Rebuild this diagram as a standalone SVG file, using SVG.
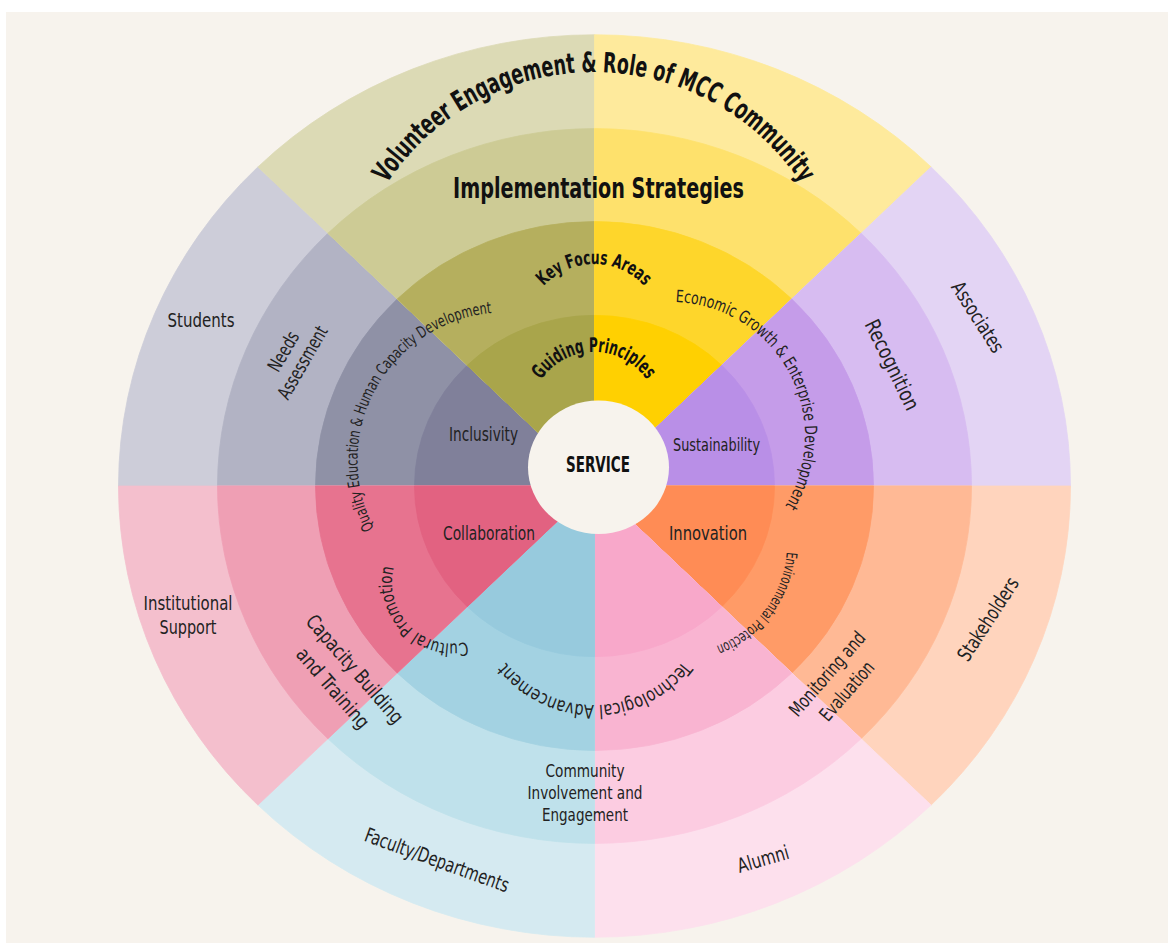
<svg xmlns="http://www.w3.org/2000/svg" width="1175" height="943" viewBox="0 0 1175 943">
<style>
.t{font-family:"Liberation Sans Narrow","DejaVu Sans Condensed","Roboto Condensed","Liberation Sans",sans-serif;fill:#222}
.b{font-weight:700;fill:#111}
.w{stroke-width:0.8}
</style>
<defs>
<path id="pTitle" d="M346,320 A248,248 0 0 1 842,320"/>
<path id="pKey" d="M526,332 A68,68 0 0 1 662,332"/>
<path id="pGuide" d="M530,416 A64,64 0 0 1 658,416"/>
<path id="pEcon" d="M675.7,302.1 A134,134 0 0 1 784.6,507"/>
<path id="pQual" d="M374,528.3 A148,148 0 0 1 493.1,312.9"/>
<path id="pCult" d="M467,641.9 A61,61 0 0 1 394.2,566.1"/>
<path id="pTech" d="M683,661 A112,112 0 0 1 505,661"/>
<path id="pEnv" d="M786.7,552 A109,109 0 0 1 714.9,646.6"/>
</defs>
<rect width="1175" height="943" fill="#ffffff"/>
<rect x="6" y="12" width="1162" height="931" fill="#f7f3ed"/>
<g id="rings" transform="translate(594.5,486) scale(1,0.948)">
<g id="sector-grey">
<path class="w" fill="#cdcdd9" stroke="#cdcdd9" d="M0,0 L-476,0 A476,476 0 0 1 -336.58,-336.58 Z"/>
<path class="w" fill="#b2b3c4" stroke="#b2b3c4" d="M0,0 L-377,0 A377,377 0 0 1 -266.58,-266.58 Z"/>
<path class="w" fill="#8f91a6" stroke="#8f91a6" d="M0,0 L-279,0 A279,279 0 0 1 -197.28,-197.28 Z"/>
<path class="w" fill="#80809a" stroke="#80809a" d="M0,0 L-180,0 A180,180 0 0 1 -127.28,-127.28 Z"/>
</g>
<g id="sector-olive">
<path class="w" fill="#dcdab5" stroke="#dcdab5" d="M0,0 L-336.58,-336.58 A476,476 0 0 1 0,-476 Z"/>
<path class="w" fill="#cdcb95" stroke="#cdcb95" d="M0,0 L-266.58,-266.58 A377,377 0 0 1 0,-377 Z"/>
<path class="w" fill="#b5af5e" stroke="#b5af5e" d="M0,0 L-197.28,-197.28 A279,279 0 0 1 0,-279 Z"/>
<path class="w" fill="#a9a54b" stroke="#a9a54b" d="M0,0 L-127.28,-127.28 A180,180 0 0 1 0,-180 Z"/>
</g>
<g id="sector-yellow">
<path class="w" fill="#feea9c" stroke="#feea9c" d="M0,0 L0,-476 A476,476 0 0 1 336.58,-336.58 Z"/>
<path class="w" fill="#fee16c" stroke="#fee16c" d="M0,0 L0,-377 A377,377 0 0 1 266.58,-266.58 Z"/>
<path class="w" fill="#fed62b" stroke="#fed62b" d="M0,0 L0,-279 A279,279 0 0 1 197.28,-197.28 Z"/>
<path class="w" fill="#ffd001" stroke="#ffd001" d="M0,0 L0,-180 A180,180 0 0 1 127.28,-127.28 Z"/>
</g>
<g id="sector-purple">
<path class="w" fill="#e3d4f4" stroke="#e3d4f4" d="M0,0 L336.58,-336.58 A476,476 0 0 1 476,0 Z"/>
<path class="w" fill="#d7bcf1" stroke="#d7bcf1" d="M0,0 L266.58,-266.58 A377,377 0 0 1 377,0 Z"/>
<path class="w" fill="#c59ce9" stroke="#c59ce9" d="M0,0 L197.28,-197.28 A279,279 0 0 1 279,0 Z"/>
<path class="w" fill="#b98fe7" stroke="#b98fe7" d="M0,0 L127.28,-127.28 A180,180 0 0 1 180,0 Z"/>
</g>
<g id="sector-orange">
<path class="w" fill="#ffd4bd" stroke="#ffd4bd" d="M0,0 L476,0 A476,476 0 0 1 336.58,336.58 Z"/>
<path class="w" fill="#ffb995" stroke="#ffb995" d="M0,0 L377,0 A377,377 0 0 1 266.58,266.58 Z"/>
<path class="w" fill="#ff9b67" stroke="#ff9b67" d="M0,0 L279,0 A279,279 0 0 1 197.28,197.28 Z"/>
<path class="w" fill="#ff8c55" stroke="#ff8c55" d="M0,0 L180,0 A180,180 0 0 1 127.28,127.28 Z"/>
</g>
<g id="sector-pink">
<path class="w" fill="#fde0ed" stroke="#fde0ed" d="M0,0 L336.58,336.58 A476,476 0 0 1 0,476 Z"/>
<path class="w" fill="#fccce1" stroke="#fccce1" d="M0,0 L266.58,266.58 A377,377 0 0 1 0,377 Z"/>
<path class="w" fill="#f9b4d1" stroke="#f9b4d1" d="M0,0 L197.28,197.28 A279,279 0 0 1 0,279 Z"/>
<path class="w" fill="#f8a8ca" stroke="#f8a8ca" d="M0,0 L127.28,127.28 A180,180 0 0 1 0,180 Z"/>
</g>
<g id="sector-blue">
<path class="w" fill="#d5eaf1" stroke="#d5eaf1" d="M0,0 L0,476 A476,476 0 0 1 -336.58,336.58 Z"/>
<path class="w" fill="#bfe1eb" stroke="#bfe1eb" d="M0,0 L0,377 A377,377 0 0 1 -266.58,266.58 Z"/>
<path class="w" fill="#a3d2e2" stroke="#a3d2e2" d="M0,0 L0,279 A279,279 0 0 1 -197.28,197.28 Z"/>
<path class="w" fill="#97cadd" stroke="#97cadd" d="M0,0 L0,180 A180,180 0 0 1 -127.28,127.28 Z"/>
</g>
<g id="sector-red">
<path class="w" fill="#f4bfcd" stroke="#f4bfcd" d="M0,0 L-336.58,336.58 A476,476 0 0 1 -476,0 Z"/>
<path class="w" fill="#ef9fb4" stroke="#ef9fb4" d="M0,0 L-266.58,266.58 A377,377 0 0 1 -377,0 Z"/>
<path class="w" fill="#e7738f" stroke="#e7738f" d="M0,0 L-197.28,197.28 A279,279 0 0 1 -279,0 Z"/>
<path class="w" fill="#e26281" stroke="#e26281" d="M0,0 L-127.28,127.28 A180,180 0 0 1 -180,0 Z"/>
</g>
</g>
<g id="node-service">
<ellipse cx="598.5" cy="467.3" rx="70.5" ry="66.8" fill="#f7f3ed"/>
<text class="t b" x="598" y="472" font-size="21" text-anchor="middle" textLength="64" lengthAdjust="spacingAndGlyphs">SERVICE</text>
</g>
<g id="node-title">
<text class="t b" font-size="28"><textPath href="#pTitle" startOffset="50%" text-anchor="middle" textLength="490" lengthAdjust="spacingAndGlyphs">Volunteer Engagement &amp; Role of MCC Community</textPath></text>
</g>
<g id="node-implementation">
<text class="t b" x="598.5" y="198" font-size="28" text-anchor="middle" textLength="291" lengthAdjust="spacingAndGlyphs">Implementation Strategies</text>
</g>
<g id="node-keyfocus">
<text class="t b" font-size="19"><textPath href="#pKey" startOffset="50%" text-anchor="middle" textLength="113" lengthAdjust="spacingAndGlyphs">Key Focus Areas</textPath></text>
</g>
<g id="node-guiding">
<text class="t b" font-size="20"><textPath href="#pGuide" startOffset="50%" text-anchor="middle" textLength="124" lengthAdjust="spacingAndGlyphs">Guiding Principles</textPath></text>
</g>
<g id="node-principles">
<text class="t" font-size="19" x="483.5" y="441" textLength="69" lengthAdjust="spacingAndGlyphs" text-anchor="middle">Inclusivity</text>
<text class="t" font-size="18" x="716.5" y="451" textLength="87" lengthAdjust="spacingAndGlyphs" text-anchor="middle">Sustainability</text>
<text class="t" font-size="19" x="489" y="540" textLength="92" lengthAdjust="spacingAndGlyphs" text-anchor="middle">Collaboration</text>
<text class="t" font-size="19" x="708" y="540" textLength="78" lengthAdjust="spacingAndGlyphs" text-anchor="middle">Innovation</text>
</g>
<g id="node-focus-areas">
<text class="t" font-size="17"><textPath href="#pEcon" textLength="279" lengthAdjust="spacingAndGlyphs">Economic Growth &amp; Enterprise Development</textPath></text>
<text class="t" font-size="16"><textPath href="#pQual" textLength="289" lengthAdjust="spacingAndGlyphs">Quality Education &amp; Human Capacity Development</textPath></text>
<text class="t" font-size="18"><textPath href="#pCult" textLength="125" lengthAdjust="spacingAndGlyphs">Cultural Promotion</textPath></text>
<text class="t" font-size="19"><textPath href="#pTech" textLength="204" lengthAdjust="spacingAndGlyphs">Technological Advancement</textPath></text>
<text class="t" font-size="15"><textPath href="#pEnv" textLength="124" lengthAdjust="spacingAndGlyphs">Environmental Protection</textPath></text>
</g>
<g id="node-strategies">
<g transform="translate(293,357) rotate(-60)">
<text class="t" font-size="19" x="0" y="-4.5" text-anchor="middle" textLength="43" lengthAdjust="spacingAndGlyphs">Needs</text>
<text class="t" font-size="19" x="0" y="17.5" text-anchor="middle" textLength="81" lengthAdjust="spacingAndGlyphs">Assessment</text>
</g>
<text class="t" font-size="21" transform="translate(892,365) rotate(64)" x="0" y="7" text-anchor="middle" textLength="98" lengthAdjust="spacingAndGlyphs">Recognition</text>
<g transform="translate(837,682.5) rotate(-49)">
<text class="t" font-size="19" x="0" y="-6.5" text-anchor="middle" textLength="105" lengthAdjust="spacingAndGlyphs">Monitoring and</text>
<text class="t" font-size="19" x="0" y="19.5" text-anchor="middle" textLength="72" lengthAdjust="spacingAndGlyphs">Evaluation</text>
</g>
<g transform="translate(344,678.5) rotate(49)">
<text class="t" font-size="20" x="0" y="-7.5" text-anchor="middle" textLength="137" lengthAdjust="spacingAndGlyphs">Capacity Building</text>
<text class="t" font-size="20" x="0" y="21.5" text-anchor="middle" textLength="100" lengthAdjust="spacingAndGlyphs">and Training</text>
</g>
<text class="t" font-size="18" x="585" y="777" text-anchor="middle" textLength="79" lengthAdjust="spacingAndGlyphs">Community</text>
<text class="t" font-size="18" x="585" y="799" text-anchor="middle" textLength="115" lengthAdjust="spacingAndGlyphs">Involvement and</text>
<text class="t" font-size="18" x="585" y="821" text-anchor="middle" textLength="86" lengthAdjust="spacingAndGlyphs">Engagement</text>
</g>
<g id="node-stakeholders">
<text class="t" font-size="20" x="201" y="327" text-anchor="middle" textLength="67" lengthAdjust="spacingAndGlyphs">Students</text>
<text class="t" font-size="20" transform="translate(978,317) rotate(57.5)" x="0" y="7" text-anchor="middle" textLength="80" lengthAdjust="spacingAndGlyphs">Associates</text>
<text class="t" font-size="20" transform="translate(988,619) rotate(-57)" x="0" y="7" text-anchor="middle" textLength="95" lengthAdjust="spacingAndGlyphs">Stakeholders</text>
<text class="t" font-size="20" transform="translate(763,859) rotate(-16)" x="0" y="7" text-anchor="middle" textLength="53" lengthAdjust="spacingAndGlyphs">Alumni</text>
<text class="t" font-size="20" transform="translate(437,860) rotate(20)" x="0" y="7" text-anchor="middle" textLength="152" lengthAdjust="spacingAndGlyphs">Faculty/Departments</text>
<text class="t" font-size="20" x="188" y="610" text-anchor="middle" textLength="89" lengthAdjust="spacingAndGlyphs">Institutional</text>
<text class="t" font-size="20" x="188" y="634" text-anchor="middle" textLength="57" lengthAdjust="spacingAndGlyphs">Support</text>
</g>
</svg>
